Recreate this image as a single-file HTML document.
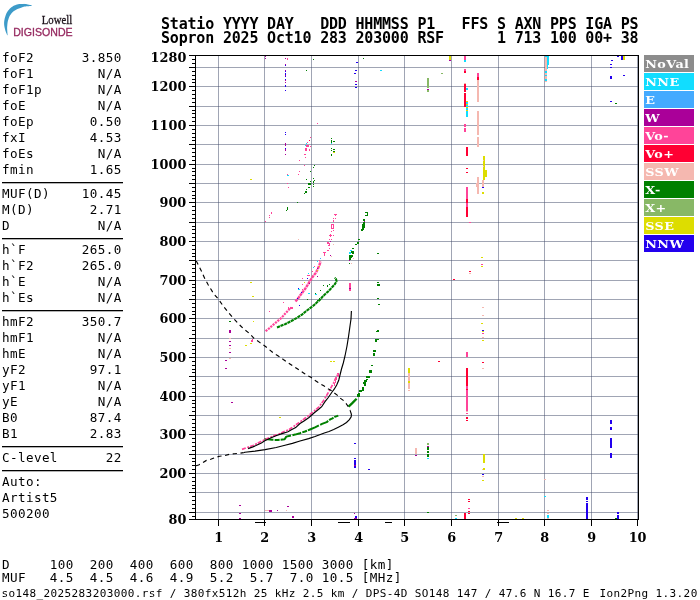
<!DOCTYPE html><html><head><meta charset="utf-8"><style>html,body{margin:0;padding:0;background:#fff;width:700px;height:600px;overflow:hidden}</style></head><body><svg width="700" height="600" viewBox="0 0 700 600" style="position:absolute;left:0;top:0"><rect width="700" height="600" fill="#fff"/><path d="M31.60,5.20 L30.96,5.07 L30.06,4.88 L28.99,4.66 L27.89,4.44 L26.85,4.24 L26.00,4.10 L25.37,4.01 L24.88,3.94 L24.46,3.89 L24.04,3.87 L23.54,3.88 L22.90,3.90 L22.09,3.93 L21.16,3.96 L20.16,4.01 L19.13,4.11 L18.09,4.26 L17.10,4.50 L16.13,4.81 L15.15,5.18 L14.17,5.61 L13.21,6.11 L12.28,6.67 L11.40,7.30 L10.56,8.01 L9.73,8.79 L8.94,9.64 L8.20,10.55 L7.51,11.51 L6.90,12.50 L6.35,13.57 L5.87,14.72 L5.44,15.92 L5.07,17.13 L4.75,18.30 L4.50,19.40 L4.31,20.42 L4.19,21.39 L4.12,22.32 L4.10,23.24 L4.13,24.16 L4.20,25.10 L4.32,26.07 L4.49,27.07 L4.71,28.06 L4.96,29.04 L5.23,30.00 L5.50,30.90 L5.80,31.80 L6.16,32.72 L6.53,33.61 L6.89,34.42 L7.19,35.10 L7.40,35.60 L7.60,35.00 L7.55,34.44 L7.48,33.66 L7.40,32.73 L7.32,31.76 L7.25,30.82 L7.20,30.00 L7.17,29.33 L7.14,28.74 L7.13,28.19 L7.13,27.63 L7.15,27.02 L7.20,26.30 L7.27,25.46 L7.35,24.54 L7.46,23.57 L7.59,22.57 L7.77,21.57 L8.00,20.60 L8.27,19.65 L8.57,18.69 L8.91,17.73 L9.31,16.79 L9.77,15.87 L10.30,15.00 L10.89,14.16 L11.54,13.35 L12.24,12.56 L13.03,11.81 L13.91,11.09 L14.90,10.40 L16.08,9.73 L17.46,9.08 L18.93,8.46 L20.40,7.89 L21.75,7.40 L22.90,7.00 L23.80,6.72 L24.54,6.56 L25.16,6.46 L25.74,6.41 L26.33,6.37 L27.00,6.30 L27.79,6.21 L28.67,6.13 L29.56,6.06 L30.39,5.99 L31.09,5.94 L31.60,5.90Z" fill="#3d9bc9"/><text x="41.8" y="23.8" style="font:11.7px 'Liberation Serif',serif;fill:#1e141c;stroke:#1e141c;stroke-width:0.3" textLength="30.4" lengthAdjust="spacingAndGlyphs">Lowell</text><text x="13.2" y="35.9" style="font:10.9px 'Liberation Sans',sans-serif;fill:#962a60;stroke:#962a60;stroke-width:0.3" textLength="59.4" lengthAdjust="spacingAndGlyphs">DIGISONDE</text><text x="161" y="29.3" style="font:bold 15.0px 'DejaVu Sans Mono',monospace;letter-spacing:-0.19px;white-space:pre" xml:space="preserve">Statio YYYY DAY   DDD HHMMSS P1   FFS S AXN PPS IGA PS</text><text x="161" y="43.2" style="font:bold 15.0px 'DejaVu Sans Mono',monospace;letter-spacing:-0.19px;white-space:pre" xml:space="preserve">Sopron 2025 Oct10 283 203000 RSF      1 713 100 00+ 38</text><text x="1.9" y="62" style="font:12.6px 'DejaVu Sans Mono',monospace;letter-spacing:0.415px;white-space:pre" xml:space="preserve">foF2      3.850</text><text x="1.9" y="78" style="font:12.6px 'DejaVu Sans Mono',monospace;letter-spacing:0.415px;white-space:pre" xml:space="preserve">foF1        N/A</text><text x="1.9" y="94" style="font:12.6px 'DejaVu Sans Mono',monospace;letter-spacing:0.415px;white-space:pre" xml:space="preserve">foF1p       N/A</text><text x="1.9" y="110" style="font:12.6px 'DejaVu Sans Mono',monospace;letter-spacing:0.415px;white-space:pre" xml:space="preserve">foE         N/A</text><text x="1.9" y="126" style="font:12.6px 'DejaVu Sans Mono',monospace;letter-spacing:0.415px;white-space:pre" xml:space="preserve">foEp       0.50</text><text x="1.9" y="142" style="font:12.6px 'DejaVu Sans Mono',monospace;letter-spacing:0.415px;white-space:pre" xml:space="preserve">fxI        4.53</text><text x="1.9" y="158" style="font:12.6px 'DejaVu Sans Mono',monospace;letter-spacing:0.415px;white-space:pre" xml:space="preserve">foEs        N/A</text><text x="1.9" y="174" style="font:12.6px 'DejaVu Sans Mono',monospace;letter-spacing:0.415px;white-space:pre" xml:space="preserve">fmin       1.65</text><text x="1.9" y="198" style="font:12.6px 'DejaVu Sans Mono',monospace;letter-spacing:0.415px;white-space:pre" xml:space="preserve">MUF(D)    10.45</text><text x="1.9" y="214" style="font:12.6px 'DejaVu Sans Mono',monospace;letter-spacing:0.415px;white-space:pre" xml:space="preserve">M(D)       2.71</text><text x="1.9" y="230" style="font:12.6px 'DejaVu Sans Mono',monospace;letter-spacing:0.415px;white-space:pre" xml:space="preserve">D           N/A</text><text x="1.9" y="254" style="font:12.6px 'DejaVu Sans Mono',monospace;letter-spacing:0.415px;white-space:pre" xml:space="preserve">h`F       265.0</text><text x="1.9" y="270" style="font:12.6px 'DejaVu Sans Mono',monospace;letter-spacing:0.415px;white-space:pre" xml:space="preserve">h`F2      265.0</text><text x="1.9" y="286" style="font:12.6px 'DejaVu Sans Mono',monospace;letter-spacing:0.415px;white-space:pre" xml:space="preserve">h`E         N/A</text><text x="1.9" y="302" style="font:12.6px 'DejaVu Sans Mono',monospace;letter-spacing:0.415px;white-space:pre" xml:space="preserve">h`Es        N/A</text><text x="1.9" y="326" style="font:12.6px 'DejaVu Sans Mono',monospace;letter-spacing:0.415px;white-space:pre" xml:space="preserve">hmF2      350.7</text><text x="1.9" y="342" style="font:12.6px 'DejaVu Sans Mono',monospace;letter-spacing:0.415px;white-space:pre" xml:space="preserve">hmF1        N/A</text><text x="1.9" y="358" style="font:12.6px 'DejaVu Sans Mono',monospace;letter-spacing:0.415px;white-space:pre" xml:space="preserve">hmE         N/A</text><text x="1.9" y="374" style="font:12.6px 'DejaVu Sans Mono',monospace;letter-spacing:0.415px;white-space:pre" xml:space="preserve">yF2        97.1</text><text x="1.9" y="390" style="font:12.6px 'DejaVu Sans Mono',monospace;letter-spacing:0.415px;white-space:pre" xml:space="preserve">yF1         N/A</text><text x="1.9" y="406" style="font:12.6px 'DejaVu Sans Mono',monospace;letter-spacing:0.415px;white-space:pre" xml:space="preserve">yE          N/A</text><text x="1.9" y="422" style="font:12.6px 'DejaVu Sans Mono',monospace;letter-spacing:0.415px;white-space:pre" xml:space="preserve">B0         87.4</text><text x="1.9" y="438" style="font:12.6px 'DejaVu Sans Mono',monospace;letter-spacing:0.415px;white-space:pre" xml:space="preserve">B1         2.83</text><text x="1.9" y="462" style="font:12.6px 'DejaVu Sans Mono',monospace;letter-spacing:0.415px;white-space:pre" xml:space="preserve">C-level      22</text><text x="1.9" y="486" style="font:12.6px 'DejaVu Sans Mono',monospace;letter-spacing:0.415px;white-space:pre" xml:space="preserve">Auto:          </text><text x="1.9" y="502" style="font:12.6px 'DejaVu Sans Mono',monospace;letter-spacing:0.415px;white-space:pre" xml:space="preserve">Artist5        </text><text x="1.9" y="518" style="font:12.6px 'DejaVu Sans Mono',monospace;letter-spacing:0.415px;white-space:pre" xml:space="preserve">500200         </text><rect x="2" y="182" width="121" height="1.3" fill="#000"/><rect x="2" y="238" width="121" height="1.3" fill="#000"/><rect x="2" y="310" width="121" height="1.3" fill="#000"/><rect x="2" y="446" width="121" height="1.3" fill="#000"/><rect x="2" y="470" width="121" height="1.3" fill="#000"/><text x="1.9" y="569" style="font:12.6px 'DejaVu Sans Mono',monospace;letter-spacing:0.415px;white-space:pre" xml:space="preserve">D     100  200  400  600  800 1000 1500 3000 [km]</text><text x="1.9" y="581.8" style="font:12.6px 'DejaVu Sans Mono',monospace;letter-spacing:0.415px;white-space:pre" xml:space="preserve">MUF   4.5  4.5  4.6  4.9  5.2  5.7  7.0 10.5 [MHz]</text><text x="1.6" y="596.6" style="font:11px 'DejaVu Sans Mono',monospace;letter-spacing:0.38px;white-space:pre" xml:space="preserve">so148_2025283203000.rsf / 380fx512h 25 kHz 2.5 km / DPS-4D SO148 147 / 47.6 N 16.7 E</text><text x="599.6" y="596.6" style="font:11px 'DejaVu Sans Mono',monospace;letter-spacing:0.38px;white-space:pre" xml:space="preserve">Ion2Png 1.3.20</text><path d="M196,512.5H638M196,492.5H638M196,473.5H638M196,454.5H638M196,434.5H638M196,415.5H638M196,396.5H638M196,376.5H638M196,357.5H638M196,338.5H638M196,318.5H638M196,299.5H638M196,280.5H638M196,260.5H638M196,241.5H638M196,222.5H638M196,202.5H638M196,183.5H638M196,164.5H638M196,144.5H638M196,125.5H638M196,106.5H638M196,86.5H638M196,67.5H638M218.5,56V519M264.5,56V519M311.5,56V519M358.5,56V519M404.5,56V519M451.5,56V519M498.5,56V519M544.5,56V519M591.5,56V519M637.5,56V519" stroke="rgba(65,75,105,0.5)" stroke-width="1" fill="none"/><path d="M189,519.5H195M192,516.5H195M189,512.5H195M192,508.5H195M192,504.5H195M192,500.5H195M192,496.5H195M189,492.5H195M192,488.5H195M192,485.5H195M192,481.5H195M192,477.5H195M189,473.5H195M192,469.5H195M192,465.5H195M192,461.5H195M192,458.5H195M189,454.5H195M192,450.5H195M192,446.5H195M192,442.5H195M192,438.5H195M189,434.5H195M192,430.5H195M192,427.5H195M192,423.5H195M192,419.5H195M189,415.5H195M192,411.5H195M192,407.5H195M192,403.5H195M192,400.5H195M189,396.5H195M192,392.5H195M192,388.5H195M192,384.5H195M192,380.5H195M189,376.5H195M192,372.5H195M192,369.5H195M192,365.5H195M192,361.5H195M189,357.5H195M192,353.5H195M192,349.5H195M192,345.5H195M192,342.5H195M189,338.5H195M192,334.5H195M192,330.5H195M192,326.5H195M192,322.5H195M189,318.5H195M192,314.5H195M192,311.5H195M192,307.5H195M192,303.5H195M189,299.5H195M192,295.5H195M192,291.5H195M192,287.5H195M192,284.5H195M189,280.5H195M192,276.5H195M192,272.5H195M192,268.5H195M192,264.5H195M189,260.5H195M192,256.5H195M192,253.5H195M192,249.5H195M192,245.5H195M189,241.5H195M192,237.5H195M192,233.5H195M192,229.5H195M192,226.5H195M189,222.5H195M192,218.5H195M192,214.5H195M192,210.5H195M192,206.5H195M189,202.5H195M192,198.5H195M192,195.5H195M192,191.5H195M192,187.5H195M189,183.5H195M192,179.5H195M192,175.5H195M192,171.5H195M192,168.5H195M189,164.5H195M192,160.5H195M192,156.5H195M192,152.5H195M192,148.5H195M189,144.5H195M192,140.5H195M192,137.5H195M192,133.5H195M192,129.5H195M189,125.5H195M192,121.5H195M192,117.5H195M192,113.5H195M192,110.5H195M189,106.5H195M192,102.5H195M192,98.5H195M192,94.5H195M192,90.5H195M189,86.5H195M192,82.5H195M192,79.5H195M192,75.5H195M192,71.5H195M189,67.5H195M192,63.5H195M192,59.5H195M189,55.5H195M218.5,520V526M264.5,520V526M311.5,520V526M358.5,520V526M404.5,520V526M451.5,520V526M498.5,520V526M544.5,520V526M591.5,520V526M637.5,520V526" stroke="#000" stroke-width="1" fill="none"/><rect x="195.5" y="55.5" width="443" height="464" stroke="#000" stroke-width="1" fill="none"/><text transform="translate(186.3,62) scale(0.3210,0.3000) rotate(0.01)" text-anchor="end" style="font:bold 40px 'DejaVu Serif',serif">1280</text><text transform="translate(186.3,90.9) scale(0.3210,0.3000) rotate(0.01)" text-anchor="end" style="font:bold 40px 'DejaVu Serif',serif">1200</text><text transform="translate(186.3,129.9) scale(0.3210,0.3000) rotate(0.01)" text-anchor="end" style="font:bold 40px 'DejaVu Serif',serif">1100</text><text transform="translate(186.3,168.9) scale(0.3210,0.3000) rotate(0.01)" text-anchor="end" style="font:bold 40px 'DejaVu Serif',serif">1000</text><text transform="translate(186.3,206.9) scale(0.3210,0.3000) rotate(0.01)" text-anchor="end" style="font:bold 40px 'DejaVu Serif',serif">900</text><text transform="translate(186.3,245.9) scale(0.3210,0.3000) rotate(0.01)" text-anchor="end" style="font:bold 40px 'DejaVu Serif',serif">800</text><text transform="translate(186.3,284.9) scale(0.3210,0.3000) rotate(0.01)" text-anchor="end" style="font:bold 40px 'DejaVu Serif',serif">700</text><text transform="translate(186.3,322.9) scale(0.3210,0.3000) rotate(0.01)" text-anchor="end" style="font:bold 40px 'DejaVu Serif',serif">600</text><text transform="translate(186.3,361.9) scale(0.3210,0.3000) rotate(0.01)" text-anchor="end" style="font:bold 40px 'DejaVu Serif',serif">500</text><text transform="translate(186.3,400.9) scale(0.3210,0.3000) rotate(0.01)" text-anchor="end" style="font:bold 40px 'DejaVu Serif',serif">400</text><text transform="translate(186.3,438.9) scale(0.3210,0.3000) rotate(0.01)" text-anchor="end" style="font:bold 40px 'DejaVu Serif',serif">300</text><text transform="translate(186.3,477.9) scale(0.3210,0.3000) rotate(0.01)" text-anchor="end" style="font:bold 40px 'DejaVu Serif',serif">200</text><text transform="translate(186.3,523.9) scale(0.3210,0.3000) rotate(0.01)" text-anchor="end" style="font:bold 40px 'DejaVu Serif',serif">80</text><text transform="translate(218.6,542.2) scale(0.3210,0.3000) rotate(0.01)" text-anchor="middle" style="font:bold 40px 'DejaVu Serif',serif">1</text><text transform="translate(264.6,542.2) scale(0.3210,0.3000) rotate(0.01)" text-anchor="middle" style="font:bold 40px 'DejaVu Serif',serif">2</text><text transform="translate(311.6,542.2) scale(0.3210,0.3000) rotate(0.01)" text-anchor="middle" style="font:bold 40px 'DejaVu Serif',serif">3</text><text transform="translate(358.6,542.2) scale(0.3210,0.3000) rotate(0.01)" text-anchor="middle" style="font:bold 40px 'DejaVu Serif',serif">4</text><text transform="translate(404.6,542.2) scale(0.3210,0.3000) rotate(0.01)" text-anchor="middle" style="font:bold 40px 'DejaVu Serif',serif">5</text><text transform="translate(451.6,542.2) scale(0.3210,0.3000) rotate(0.01)" text-anchor="middle" style="font:bold 40px 'DejaVu Serif',serif">6</text><text transform="translate(498.6,542.2) scale(0.3210,0.3000) rotate(0.01)" text-anchor="middle" style="font:bold 40px 'DejaVu Serif',serif">7</text><text transform="translate(544.6,542.2) scale(0.3210,0.3000) rotate(0.01)" text-anchor="middle" style="font:bold 40px 'DejaVu Serif',serif">8</text><text transform="translate(591.6,542.2) scale(0.3210,0.3000) rotate(0.01)" text-anchor="middle" style="font:bold 40px 'DejaVu Serif',serif">9</text><text transform="translate(637.6,542.2) scale(0.3210,0.3000) rotate(0.01)" text-anchor="middle" style="font:bold 40px 'DejaVu Serif',serif">10</text><rect x="644" y="55" width="50" height="17" fill="#8c8c8c"/><text transform="translate(645.2,67.7) scale(1.1,1)" style="font:bold 11.6px 'DejaVu Serif',serif;letter-spacing:0.4px;fill:#fff">NoVal</text><rect x="644" y="73" width="50" height="17" fill="#11ddff"/><text transform="translate(645.2,85.7) scale(1.1,1)" style="font:bold 11.6px 'DejaVu Serif',serif;letter-spacing:0.4px;fill:#fff">NNE</text><rect x="644" y="91" width="50" height="17" fill="#44aaff"/><text transform="translate(645.2,103.7) scale(1.1,1)" style="font:bold 11.6px 'DejaVu Serif',serif;letter-spacing:0.4px;fill:#fff">E</text><rect x="644" y="109" width="50" height="17" fill="#aa0099"/><text transform="translate(645.2,121.7) scale(1.1,1)" style="font:bold 11.6px 'DejaVu Serif',serif;letter-spacing:0.4px;fill:#fff">W</text><rect x="644" y="127" width="50" height="17" fill="#ff4499"/><text transform="translate(645.2,139.7) scale(1.1,1)" style="font:bold 11.6px 'DejaVu Serif',serif;letter-spacing:0.4px;fill:#fff">Vo-</text><rect x="644" y="145" width="50" height="17" fill="#ff0033"/><text transform="translate(645.2,157.7) scale(1.1,1)" style="font:bold 11.6px 'DejaVu Serif',serif;letter-spacing:0.4px;fill:#fff">Vo+</text><rect x="644" y="163" width="50" height="17" fill="#f5b8b0"/><text transform="translate(645.2,175.7) scale(1.1,1)" style="font:bold 11.6px 'DejaVu Serif',serif;letter-spacing:0.4px;fill:#fff">SSW</text><rect x="644" y="181" width="50" height="17" fill="#008000"/><text transform="translate(645.2,193.7) scale(1.1,1)" style="font:bold 11.6px 'DejaVu Serif',serif;letter-spacing:0.4px;fill:#fff">X-</text><rect x="644" y="199" width="50" height="17" fill="#88b866"/><text transform="translate(645.2,211.7) scale(1.1,1)" style="font:bold 11.6px 'DejaVu Serif',serif;letter-spacing:0.4px;fill:#fff">X+</text><rect x="644" y="217" width="50" height="17" fill="#dddd00"/><text transform="translate(645.2,229.7) scale(1.1,1)" style="font:bold 11.6px 'DejaVu Serif',serif;letter-spacing:0.4px;fill:#fff">SSE</text><rect x="644" y="235" width="50" height="17" fill="#2200ee"/><text transform="translate(645.2,247.7) scale(1.1,1)" style="font:bold 11.6px 'DejaVu Serif',serif;letter-spacing:0.4px;fill:#fff">NNW</text><g fill="none" stroke-linejoin="round"><polyline points="265.6,331.2 269.2,328.3 273.4,324.6 277.5,321.2 281.5,317.8 285.5,313.3 289.0,309.5 291.1,307.7" stroke="#ff4499" stroke-width="2.2" stroke-dasharray="2.2 0.9"/><polyline points="295.5,301.5 298.9,297.2 302.0,293.0 305.0,289.0 308.0,284.3 310.5,280.2 313.0,276.3 316.0,272.6 318.0,268.5 319.6,264.5 320.6,261.5" stroke="#ff4499" stroke-width="2.4" stroke-dasharray="3 0.6"/><polyline points="277.0,327.5 281.0,325.8 285.0,324.2 289.0,322.2 294.0,319.6 298.0,317.1 302.0,314.6 306.0,311.2 310.0,308.2 314.0,305.2 317.0,302.3 320.5,299.2 322.5,296.7 325.0,294.2 328.0,291.6 330.5,289.0 333.0,286.2 335.0,284.0 336.5,281.3 336.0,279.0 334.8,277.6" stroke="#008000" stroke-width="2.1" stroke-dasharray="3.2 0.6"/><polyline points="264.5,439.0 268.0,439.2 272.0,439.8 278.0,440.0 284.6,439.3 286.3,436.6 290.0,435.7 295.0,434.6 300.0,433.2 305.0,431.5 310.0,429.5 315.0,427.4 318.5,425.6 322.0,423.9 326.7,422.1 330.2,419.4 332.5,418.3 334.8,416.9 338.3,415.6" stroke="#008000" stroke-width="2.0" stroke-dasharray="9 1.2 5 1 12 1.5"/><polyline points="348.6,406.6 352.0,403.4 356.6,398.8" stroke="#008000" stroke-width="2.3"/><polyline points="242.0,449.4 248.0,447.2 253.0,445.5 259.0,442.5 265.0,439.5 270.0,437.4 275.0,435.4 280.0,433.6 285.5,431.0 289.5,429.3 294.0,426.2 299.0,422.6 304.0,419.0 309.0,415.2 314.0,411.2 319.0,406.8 323.6,400.5 327.6,393.8 330.5,388.7 333.6,382.8 336.0,377.5 337.8,374.5" stroke="#ff4499" stroke-width="1.7" stroke-dasharray="4 1.5 2 1"/></g><path fill="#aa0099" d="M265,56h1v1h-1zM265,58h1v1h-1zM285,58h1v1h-1z"/><path fill="#2200ee" d="M285,64h1v2h-1z"/><path fill="#aa0099" d="M285,64h1v1h-1zM285,70h1v1h-1z"/><path fill="#2200ee" d="M285,71h1v1h-1zM285,73h1v2h-1z"/><path fill="#aa0099" d="M285,75h1v2h-1z"/><path fill="#2200ee" d="M285,76h1v1h-1zM285,79h1v1h-1z"/><path fill="#aa0099" d="M285,80h1v1h-1zM285,82h1v1h-1z"/><path fill="#2200ee" d="M285,85h1v2h-1zM285,90h1v1h-1z"/><path fill="#ff4499" d="M287,58h1v2h-1z"/><path fill="#008000" d="M313,59h1v1h-1zM306,70h1v1h-1z"/><path fill="#ff4499" d="M317,123h1v1h-1z"/><path fill="#008000" d="M363,58h1v1h-1z"/><path fill="#2200ee" d="M356,62h2v1h-2zM355,70h2v1h-2zM354,73h2v1h-2z"/><path fill="#aa0099" d="M355,81h2v1h-2z"/><path fill="#2200ee" d="M355,84h2v1h-2zM355,87h2v1h-2z"/><path fill="#11ddff" d="M380,70h2v1h-2z"/><path fill="#dddd00" d="M449,56h2v4h-2z"/><path fill="#aa0099" d="M449,60h2v1h-2z"/><path fill="#ff4499" d="M464,56h2v4h-2z"/><path fill="#11ddff" d="M464,60h2v2h-2z"/><path fill="#ff4499" d="M464,69h2v2h-2z"/><path fill="#ff0033" d="M464,71h2v2h-2z"/><path fill="#f5b8b0" d="M464,83h2v1h-2z"/><path fill="#ff0033" d="M464,84h2v8h-2z"/><path fill="#11ddff" d="M466,88h2v2h-2z"/><path fill="#ff0033" d="M464,93h2v14h-2z"/><path fill="#dddd00" d="M466,101h2v1h-2z"/><path fill="#11ddff" d="M466,102h2v2h-2z"/><path fill="#dddd00" d="M466,104h2v1h-2z"/><path fill="#11ddff" d="M466,105h2v2h-2z"/><path fill="#dddd00" d="M466,107h2v1h-2z"/><path fill="#11ddff" d="M466,108h2v2h-2z"/><path fill="#dddd00" d="M466,110h2v1h-2z"/><path fill="#11ddff" d="M466,111h2v6h-2z"/><path fill="#ff4499" d="M464,124h2v2h-2zM477,73h2v2h-2zM477,75h2v2h-2z"/><path fill="#ff0033" d="M477,77h2v3h-2z"/><path fill="#f5b8b0" d="M477,80h2v22h-2zM477,111h2v15h-2z"/><path fill="#88b866" d="M427,78h2v10h-2z"/><path fill="#aa0099" d="M427,89h2v1h-2z"/><path fill="#88b866" d="M427,90h2v2h-2zM441,73h2v1h-2z"/><path fill="#f5b8b0" d="M545,57h2v25h-2z"/><path fill="#11ddff" d="M545,56h4v1h-4zM547,57h2v8h-2zM547,65h1v4h-1zM545,71h2v2h-2zM545,75h2v1h-2zM545,79h2v2h-2z"/><path fill="#2200ee" d="M617,56h2v1h-2zM621,56h2v4h-2z"/><path fill="#dddd00" d="M623,56h2v4h-2z"/><path fill="#2200ee" d="M611,60h2v1h-2zM610,64h2v1h-2zM610,67h2v1h-2zM610,76h2v3h-2zM623,75h2v1h-2zM610,101h2v1h-2z"/><path fill="#008000" d="M615,103h2v1h-2z"/><path fill="#2200ee" d="M285,132h1v1h-1zM285,134h1v1h-1z"/><path fill="#aa0099" d="M285,143h1v3h-1z"/><path fill="#2200ee" d="M285,148h1v1h-1z"/><path fill="#aa0099" d="M285,149h1v2h-1zM285,154h1v1h-1z"/><path fill="#ff4499" d="M310,137h1v1h-1z"/><path fill="#ff0033" d="M309,140h1v1h-1z"/><path fill="#ff4499" d="M307,142h1v1h-1z"/><path fill="#11ddff" d="M306,143h1v1h-1zM305,145h1v1h-1z"/><path fill="#ff4499" d="M306,145h3v2h-3zM310,146h1v1h-1zM305,148h2v3h-2zM309,149h1v2h-1zM304,154h2v1h-2zM305,157h1v1h-1zM299,160h1v1h-1zM304,165h1v1h-1zM299,171h1v1h-1zM298,174h1v1h-1zM287,174h1v1h-1z"/><path fill="#11ddff" d="M287,175h2v1h-2z"/><path fill="#ff4499" d="M287,183h1v1h-1z"/><path fill="#008000" d="M314,165h1v1h-1zM313,167h1v1h-1zM310,171h1v1h-1zM306,179h1v1h-1zM313,178h1v1h-1zM314,180h1v1h-1zM310,181h1v1h-1zM313,182h1v1h-1zM308,183h3v2h-3zM331,138h1v1h-1zM331,140h1v3h-1z"/><path fill="#11ddff" d="M331,143h1v1h-1z"/><path fill="#008000" d="M331,148h1v1h-1zM331,150h1v1h-1zM331,154h1v2h-1zM333,141h2v1h-2zM333,149h2v1h-2zM333,151h2v1h-2z"/><path fill="#dddd00" d="M333,152h2v1h-2zM250,179h2v1h-2z"/><path fill="#ff4499" d="M464,125h2v2h-2zM464,128h2v2h-2zM464,130h2v2h-2z"/><path fill="#f5b8b0" d="M477,125h2v10h-2zM477,137h2v10h-2z"/><path fill="#ff0033" d="M466,147h2v9h-2zM466,168h2v1h-2zM466,172h2v1h-2z"/><path fill="#ff4499" d="M466,187h2v12h-2z"/><path fill="#ff0033" d="M466,199h2v7h-2z"/><path fill="#dddd00" d="M483,156h2v24h-2z"/><path fill="#f5b8b0" d="M483,160h1v1h-1zM483,166h1v1h-1z"/><path fill="#dddd00" d="M485,170h2v7h-2z"/><path fill="#f5b8b0" d="M482,180h2v8h-2z"/><path fill="#2200ee" d="M482,187h2v1h-2z"/><path fill="#dddd00" d="M482,192h2v2h-2z"/><path fill="#f5b8b0" d="M477,177h2v17h-2zM476,183h1v4h-1z"/><path fill="#008000" d="M297,202h1v1h-1zM287,207h1v3h-1zM286,210h1v1h-1z"/><path fill="#ff4499" d="M271,212h1v2h-1zM269,215h1v1h-1zM269,217h1v1h-1zM265,221h1v1h-1z"/><path fill="#f5b8b0" d="M298,239h1v1h-1z"/><path fill="#ff4499" d="M334,214h3v1h-3zM335,215h1v1h-1zM333,218h1v1h-1zM335,218h1v1h-1zM333,220h1v1h-1zM333,221h1v1h-1zM331,224h1v5h-1zM333,224h1v5h-1zM332,224h1v1h-1zM332,228h1v1h-1zM333,230h1v1h-1zM331,231h1v1h-1zM329,235h3v1h-3zM330,234h1v3h-1zM333,235h1v1h-1zM329,239h1v1h-1zM331,239h1v1h-1z"/><path fill="#aa0099" d="M330,241h1v1h-1z"/><path fill="#ff4499" d="M327,242h2v2h-2zM329,243h1v3h-1zM328,245h1v1h-1z"/><path fill="#f5b8b0" d="M333,244h1v1h-1z"/><path fill="#ff4499" d="M329,248h1v1h-1zM327,250h2v1h-2zM323,252h3v1h-3zM324,253h1v3h-1z"/><path fill="#aa0099" d="M330,255h1v1h-1z"/><path fill="#f5b8b0" d="M331,256h1v1h-1z"/><path fill="#44aaff" d="M320,258h1v1h-1z"/><path fill="#008000" d="M365,212h3v1h-3zM367,213h1v2h-1zM365,215h3v1h-3zM363,219h2v2h-2z"/><path fill="#aa0099" d="M364,221h1v1h-1z"/><path fill="#008000" d="M363,222h2v2h-2zM362,224h3v4h-3zM362,228h2v2h-2zM361,229h2v2h-2zM358,239h2v1h-2zM357,242h2v2h-2zM355,244h2v1h-2zM352,248h2v1h-2z"/><path fill="#11ddff" d="M350,250h2v1h-2zM349,252h2v1h-2z"/><path fill="#008000" d="M351,251h3v2h-3zM349,255h4v2h-4zM349,257h3v1h-3zM349,258h2v2h-2zM352,251h2v3h-2z"/><path fill="#11ddff" d="M349,253h2v1h-2z"/><path fill="#f5b8b0" d="M353,258h1v1h-1z"/><path fill="#008000" d="M377,253h2v1h-2z"/><path fill="#ff0033" d="M466,199h2v4h-2z"/><path fill="#ff4499" d="M466,203h2v4h-2z"/><path fill="#ff0033" d="M466,207h2v10h-2z"/><path fill="#ff4499" d="M469,222h2v1h-2z"/><path fill="#dddd00" d="M481,257h2v1h-2z"/><path fill="#ff4499" d="M481,264h2v1h-2z"/><path fill="#dddd00" d="M481,266h2v1h-2z"/><path fill="#ff0033" d="M469,271h2v1h-2z"/><path fill="#f5b8b0" d="M469,273h2v1h-2z"/><path fill="#ff0033" d="M453,279h2v1h-2z"/><path fill="#dddd00" d="M250,282h2v1h-2zM252,296h2v1h-2z"/><path fill="#ff4499" d="M269,311h1v1h-1z"/><path fill="#008000" d="M229,321h2v1h-2z"/><path fill="#aa0099" d="M229,330h2v3h-2z"/><path fill="#dddd00" d="M253,321h1v1h-1z"/><path fill="#aa0099" d="M349,260h1v1h-1z"/><path fill="#008000" d="M349,263h1v1h-1z"/><path fill="#f5b8b0" d="M351,263h1v1h-1z"/><path fill="#ff4499" d="M349,283h2v5h-2z"/><path fill="#aa0099" d="M349,288h2v1h-2z"/><path fill="#ff4499" d="M349,289h2v2h-2z"/><path fill="#008000" d="M377,282h2v1h-2zM377,284h3v2h-3zM377,298h2v1h-2zM378,304h2v1h-2zM375,339h4v1h-4zM375,340h2v2h-2z"/><path fill="#f5b8b0" d="M229,338h2v1h-2z"/><path fill="#aa0099" d="M229,341h2v1h-2zM229,345h2v1h-2z"/><path fill="#f5b8b0" d="M229,348h2v1h-2z"/><path fill="#aa0099" d="M229,352h2v1h-2z"/><path fill="#f5b8b0" d="M229,358h2v1h-2z"/><path fill="#aa0099" d="M225,360h2v1h-2zM225,368h2v1h-2zM231,402h2v1h-2z"/><path fill="#dddd00" d="M245,345h2v1h-2zM250,343h2v1h-2z"/><path fill="#ff4499" d="M251,340h2v2h-2zM252,339h1v1h-1z"/><path fill="#2200ee" d="M354,443h2v1h-2zM354,458h2v1h-2z"/><path fill="#dddd00" d="M279,417h2v1h-2zM408,368h2v5h-2z"/><path fill="#f5b8b0" d="M408,373h2v8h-2z"/><path fill="#dddd00" d="M408,381h2v2h-2z"/><path fill="#f5b8b0" d="M408,383h2v6h-2zM408,390h2v1h-2zM482,307h2v1h-2zM482,315h2v1h-2z"/><path fill="#dddd00" d="M481,323h2v1h-2z"/><path fill="#2200ee" d="M482,330h2v1h-2z"/><path fill="#dddd00" d="M482,331h2v1h-2z"/><path fill="#ff4499" d="M482,333h2v1h-2z"/><path fill="#f5b8b0" d="M482,337h2v1h-2z"/><path fill="#dddd00" d="M482,340h2v1h-2z"/><path fill="#ff4499" d="M466,352h2v5h-2z"/><path fill="#ff0033" d="M438,361h2v1h-2zM482,362h2v1h-2z"/><path fill="#f5b8b0" d="M482,368h2v1h-2z"/><path fill="#ff0033" d="M466,368h2v18h-2z"/><path fill="#ff4499" d="M466,386h2v3h-2z"/><path fill="#ff0033" d="M466,389h2v1h-2z"/><path fill="#ff4499" d="M466,390h2v21h-2z"/><path fill="#f5b8b0" d="M466,411h2v1h-2z"/><path fill="#ff4499" d="M466,413h2v1h-2z"/><path fill="#ff0033" d="M466,417h2v2h-2zM466,420h2v1h-2z"/><path fill="#f5b8b0" d="M415,448h2v6h-2z"/><path fill="#aa0099" d="M415,455h2v1h-2z"/><path fill="#88b866" d="M427,443h2v2h-2z"/><path fill="#aa0099" d="M427,446h2v1h-2z"/><path fill="#008000" d="M427,447h2v3h-2zM427,451h2v2h-2zM427,454h2v3h-2z"/><path fill="#11ddff" d="M427,458h2v1h-2z"/><path fill="#2200ee" d="M368,469h2v1h-2z"/><path fill="#dddd00" d="M483,454h2v9h-2zM483,468h2v2h-2z"/><path fill="#f5b8b0" d="M482,469h1v1h-1z"/><path fill="#2200ee" d="M482,474h2v1h-2z"/><path fill="#f5b8b0" d="M482,476h2v1h-2z"/><path fill="#dddd00" d="M482,480h2v1h-2z"/><path fill="#ff0033" d="M468,499h2v1h-2zM468,501h2v1h-2z"/><path fill="#ff4499" d="M468,508h2v1h-2z"/><path fill="#ff0033" d="M468,511h2v1h-2zM468,513h2v1h-2z"/><path fill="#008000" d="M427,512h2v1h-2z"/><path fill="#ff0033" d="M464,513h2v6h-2z"/><path fill="#88b866" d="M455,515h2v1h-2z"/><path fill="#11ddff" d="M455,518h2v1h-2z"/><path fill="#2200ee" d="M610,420h2v3h-2zM610,427h2v3h-2zM610,438h2v10h-2zM610,453h2v5h-2zM586,497h2v3h-2zM586,501h2v1h-2zM586,503h2v16h-2zM617,512h2v2h-2zM617,515h2v4h-2z"/><path fill="#008000" d="M615,518h2v1h-2z"/><path fill="#f5b8b0" d="M544,479h2v1h-2z"/><path fill="#11ddff" d="M544,496h2v1h-2z"/><path fill="#f5b8b0" d="M547,510h2v1h-2zM547,513h2v1h-2z"/><path fill="#11ddff" d="M547,515h2v3h-2z"/><path fill="#f5b8b0" d="M547,518h2v1h-2z"/><path fill="#dddd00" d="M515,518h2v1h-2zM522,518h2v1h-2z"/><path fill="#2200ee" d="M610,420h2v4h-2zM354,460h2v8h-2z"/><path fill="#aa0099" d="M354,465h2v1h-2zM354,513h1v1h-1z"/><path fill="#2200ee" d="M355,516h2v3h-2z"/><path fill="#aa0099" d="M354,518h2v1h-2zM239,505h2v1h-2zM239,513h2v1h-2zM239,518h2v1h-2z"/><path fill="#f5b8b0" d="M265,510h4v1h-4zM271,510h1v1h-1z"/><path fill="#aa0099" d="M269,510h3v2h-3zM277,510h1v1h-1z"/><path fill="#f5b8b0" d="M286,510h1v1h-1z"/><path fill="#aa0099" d="M287,506h2v1h-2zM292,516h2v2h-2z"/><path fill="#11ddff" d="M317,261h1v1h-1z"/><path fill="#ff4499" d="M319,260h1v1h-1z"/><path fill="#11ddff" d="M313,267h1v1h-1z"/><path fill="#ff4499" d="M314,266h1v1h-1z"/><path fill="#aa0099" d="M317,268h1v1h-1z"/><path fill="#dddd00" d="M317,270h1v1h-1zM319,266h1v1h-1z"/><path fill="#ff4499" d="M312,271h1v1h-1z"/><path fill="#11ddff" d="M308,273h1v1h-1z"/><path fill="#ff4499" d="M307,275h3v1h-3z"/><path fill="#aa0099" d="M317,276h1v1h-1z"/><path fill="#2200ee" d="M307,278h1v1h-1z"/><path fill="#ff4499" d="M302,278h1v1h-1z"/><path fill="#dddd00" d="M304,282h1v1h-1z"/><path fill="#ff4499" d="M302,284h1v1h-1z"/><path fill="#aa0099" d="M309,283h1v1h-1z"/><path fill="#2200ee" d="M298,288h1v1h-1z"/><path fill="#11ddff" d="M298,289h2v1h-2z"/><path fill="#ff4499" d="M302,289h1v1h-1z"/><path fill="#2200ee" d="M301,292h1v1h-1z"/><path fill="#11ddff" d="M308,293h2v1h-2z"/><path fill="#2200ee" d="M297,298h1v1h-1zM299,305h1v1h-1z"/><path fill="#ff0033" d="M283,302h1v1h-1z"/><path fill="#ff4499" d="M291,308h1v1h-1zM288,307h1v3h-1zM290,307h1v2h-1z"/><path fill="#008000" d="M315,293h1v1h-1z"/><path fill="#11ddff" d="M315,294h2v1h-2z"/><path fill="#008000" d="M307,299h1v1h-1zM319,298h1v1h-1zM323,285h1v1h-1zM327,285h1v2h-1zM329,284h1v1h-1zM320,290h1v1h-1zM317,300h1v1h-1z"/><path fill="#ff4499" d="M283,302h1v1h-1zM291,307h2v2h-2z"/><path fill="#008000" d="M373,350h3v2h-3zM373,353h2v3h-2zM371,365h2v1h-2zM369,370h3v3h-3zM377,330h2v1h-2zM376,331h3v1h-3z"/><path fill="#ff4499" d="M337,373h2v1h-2zM338,374h1v3h-1zM336,377h1v3h-1zM335,380h1v3h-1zM334,383h1v3h-1z"/><path fill="#dddd00" d="M330,361h2v1h-2zM333,361h2v1h-2z"/><path fill="#000" d="M255,522h11v1h-11zM338,522h12v1h-12zM385,522h7v1h-7zM497,522h12v1h-12z"/><path fill="#aa0099" d="M354,513h1v1h-1z"/><path fill="#2200ee" d="M355,516h2v2h-2z"/><path fill="#aa0099" d="M354,518h3v1h-3z"/><path fill="#008000" d="M313,181h1v1h-1zM313,184h1v1h-1zM313,186h1v1h-1zM308,187h2v1h-2zM306,189h1v1h-1zM305,191h2v2h-2zM304,193h1v1h-1z"/><path fill="#ff4499" d="M288,187h1v1h-1z"/><path fill="#008000" d="M357,394h3v3h-3zM358,393h2v1h-2zM362,387h2v4h-2zM359,390h3v2h-3zM364,380h3v2h-3zM363,382h3v2h-3zM364,384h2v2h-2zM366,376h4v2h-4zM366,379h2v1h-2z"/><g fill="none" stroke="#000" stroke-width="1.15"><polyline points="351.4,311.0 351.0,319.0 350.0,326.0 348.6,336.0 347.0,346.0 345.0,356.0 343.3,363.0 341.5,369.0 340.0,375.0 338.8,380.0 336.7,385.0 334.2,389.2 331.7,392.5 328.3,397.5 325.0,401.7 321.7,406.7 319.0,409.0 314.0,413.0 309.0,417.5 304.0,421.0 300.0,423.5 295.7,427.6 291.4,429.8 288.0,431.7 282.0,433.6 276.0,435.8 270.0,438.2 264.8,440.8 261.4,442.9 256.0,445.6 252.9,446.9 248.1,448.6"/><polyline points="243.6,452.6 245.0,452.3 255.0,451.1 265.0,449.6 276.2,447.5 285.0,445.2 292.4,443.4 300.0,441.0 308.6,438.6 315.0,436.5 319.7,434.7 324.3,433.0 329.0,431.5 333.7,429.5 338.3,427.2 343.0,424.8 346.5,422.5 349.4,419.6 351.2,416.7 351.4,414.3 350.3,410.8"/><polyline points="350.4,410.8 349.3,408.5 348.3,406.7 345.8,403.0 343.3,400.4 340.0,398.0 337.5,395.4 334.2,392.9 331.2,390.4 328.0,388.8 323.8,385.8 320.8,384.2 317.8,382.3 314.3,380.0 311.3,377.6 307.8,375.8 304.3,373.5 300.8,371.2 297.3,368.8 293.8,366.5 290.3,364.2 286.8,361.8 283.3,359.5 280.4,357.2 276.3,354.8 272.8,352.5 269.3,349.6 265.8,346.7 260.0,342.6 254.0,338.3 249.7,333.7 243.0,328.3 237.7,323.0 232.3,317.0 227.7,311.7 223.0,305.7 218.3,299.0 213.7,293.7 208.3,285.0 205.0,279.0 201.0,270.3 196.3,261.0" stroke-dasharray="4.2 3.6" stroke-dashoffset="-4.5"/><polyline points="196.0,465.8 198.6,465.0 202.5,462.9 206.4,460.4 210.7,459.3 215.4,457.5 219.6,456.3 224.3,455.7 229.3,454.3 234.3,453.7 238.6,453.4 243.6,452.6" stroke-dasharray="4.2 3.6"/></g></svg></body></html>
